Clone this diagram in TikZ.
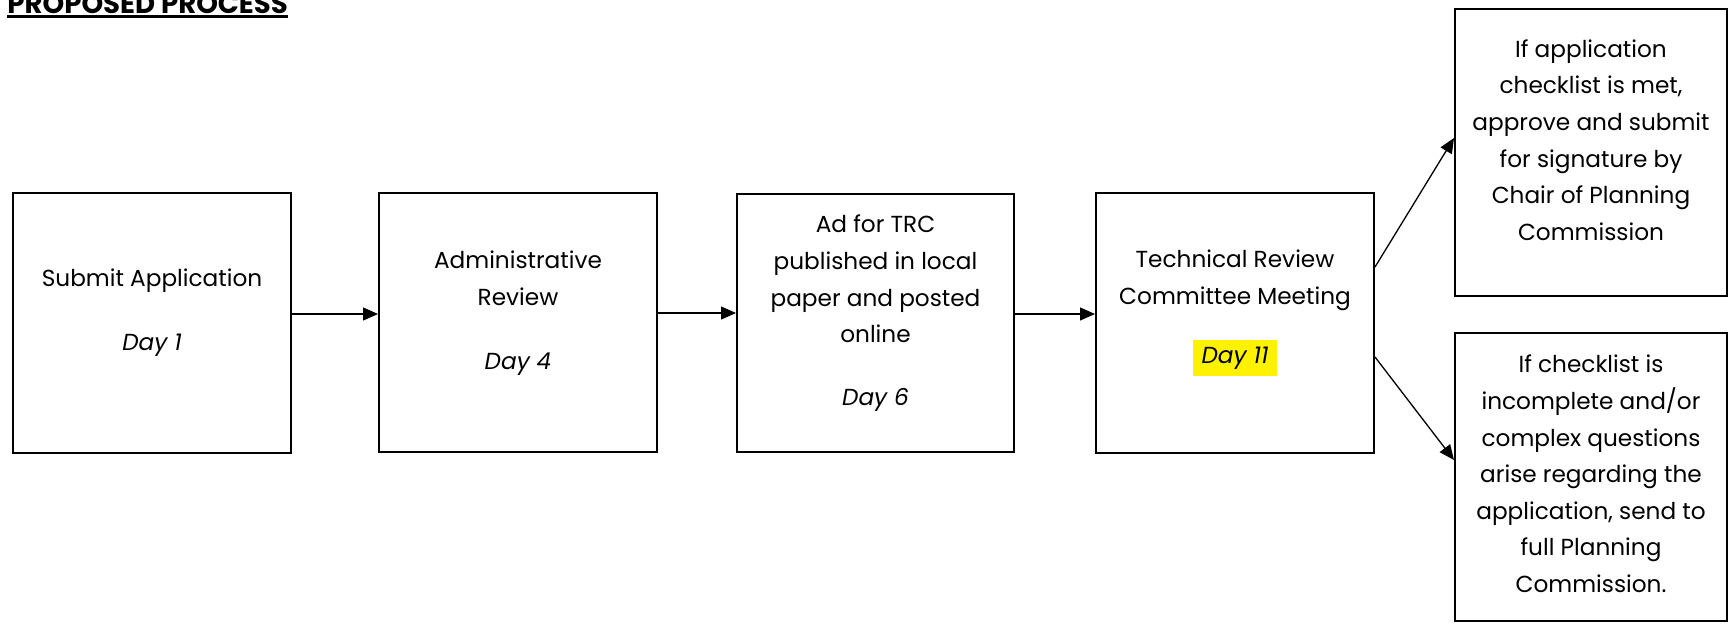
\documentclass[tikz,border=0pt]{standalone}
\usepackage{fontspec}
\setmainfont{Poppins}
\usetikzlibrary{arrows.meta,calc}
\begin{document}
\begin{tikzpicture}[x=0.5pt,y=-0.5pt,
  box/.style={draw=black,line width=1pt,rectangle,inner sep=0pt},
  txt/.style={font=\fontsize{11.6}{18.3}\selectfont,align=center,inner sep=0pt},
  arr/.style={line width=0.65pt,-{Triangle[length=7.5pt,width=6.5pt]}}]
\useasboundingbox (0,0) rectangle (1729,623);
% title
\node[anchor=base west,inner sep=0pt,font=\fontsize{13.8}{16}\selectfont\bfseries] (title) at (7,13.5) {PROPOSED PROCESS};
\draw[line width=1.4pt] ($(title.base west)+(0,3)$) -- ($(title.base east)+(0,3)$);
% boxes
\node[box,minimum width=139pt,minimum height=130pt] (b1) at (152,323) {};
\node[box,minimum width=139pt,minimum height=129.5pt] (b2) at (518,322.5) {};
\node[box,minimum width=138.5pt,minimum height=129pt] (b3) at (875.5,323) {};
\node[box,minimum width=139pt,minimum height=130pt] (b4) at (1235,323) {};
\node[box,minimum width=136pt,minimum height=143.5pt] (r1) at (1591,152.5) {};
\node[box,minimum width=136pt,minimum height=144pt] (r2) at (1591,477) {};
% texts
\node[txt] (t1) at (152,281) {Submit Application};
\node[txt] (d1) at (152,345) {\itshape Day 1};
\node[txt] (t2) at (518,278) {Administrative\\Review};
\node[txt] (d2) at (518,364) {\itshape Day 4};
\node[txt] (t3) at (875.5,279) {Ad for TRC\\published in local\\paper and posted\\online};
\node[txt] (d3) at (875.5,400) {\itshape Day 6};
\node[txt] (t4) at (1235,280) {Technical Review\\Committee Meeting};
\node[txt,fill=yellow,inner xsep=4.5pt,inner ysep=3.5pt] (d4) at (1235,358) {\itshape Day 11};
\node[txt] (rt1) at (1591,140) {If application\\checklist is met,\\approve and submit\\for signature by\\Chair of Planning\\Commission};
\node[txt] (rt2) at (1591,474) {If checklist is\\incomplete and/or\\complex questions\\arise regarding the\\application, send to\\full Planning\\Commission.};
% connectors
\draw[arr] ($(b1.east)+(0,-9)$) -- ($(b2.west)+(0,-8.5)$);
\draw[arr] ($(b2.east)+(0,-9.5)$) -- ($(b3.west)+(0,-10)$);
\draw[arr] ($(b3.east)+(0,-9)$) -- ($(b4.west)+(0,-9)$);
\draw[arr] ($(b4.east)+(0,-56)$) -- ($(r1.west)+(0,-14.5)$);
\draw[arr] ($(b4.east)+(0,34)$) -- ($(r2.west)+(0,-17)$);
\end{tikzpicture}
\end{document}
